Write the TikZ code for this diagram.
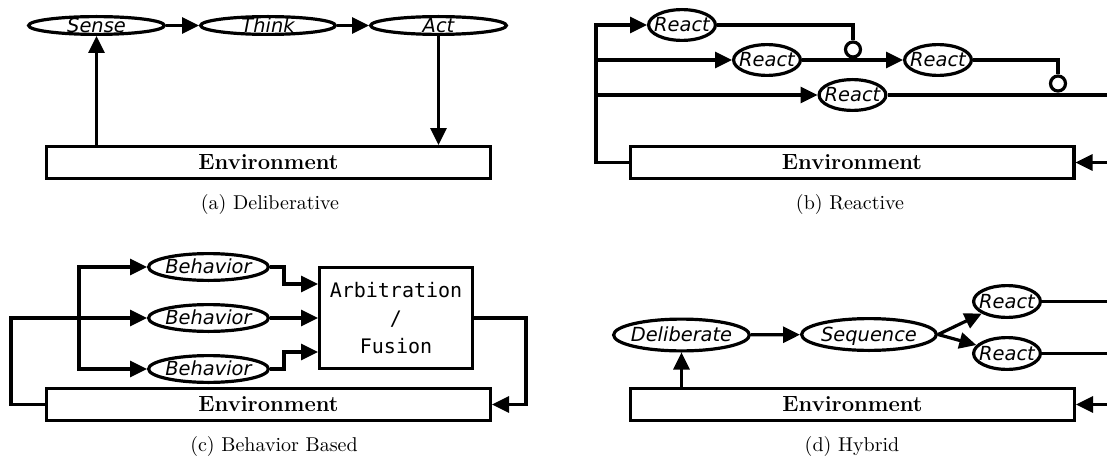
\documentclass[tikz,border=0pt]{standalone}
\usepackage{fontspec}
\usetikzlibrary{arrows.meta,shapes.geometric,calc}
\newfontfamily\ellfont{DejaVu Sans}
\newfontfamily\arbfont{DejaVu Sans Mono}
% zero-size, vertically centred label so the ellipse size is set only by minimum width/height
\newcommand\zw[1]{\makebox[0pt]{\raisebox{-0.35em}[0pt][0pt]{#1}}}

\begin{document}
\begin{tikzpicture}[x=0.5pt, y=-0.5pt,
  conn/.style={line width=1.6pt},
  arr/.style={conn, -{Triangle[length=8.5pt,width=8pt]}},
  oval/.style={ellipse, draw, line width=1.6pt, inner sep=0pt, fill=white,
    font=\ellfont\itshape\fontsize{9.7}{11}\selectfont},
  wide/.style={oval, minimum width=67.9pt, minimum height=8.9pt},
  tall/.style={oval, minimum width=67.9pt, minimum height=15.9pt},
  react/.style={oval, minimum width=33.4pt, minimum height=15.4pt},
  behav/.style={oval, minimum width=59.9pt, minimum height=13.4pt},
  envbox/.style={rectangle, draw, line width=1.6pt, minimum width=221.9pt,
    minimum height=15.9pt, inner sep=0pt, font=\fontsize{11}{13}\selectfont\bfseries},
  arbbox/.style={rectangle, draw, line width=1.6pt, minimum width=76.4pt,
    minimum height=50.4pt, inner sep=0pt, align=center,
    font=\arbfont\fontsize{10}{13.8}\selectfont},
  inhib/.style={circle, draw, line width=1.6pt, minimum size=7.5pt, inner sep=0pt, fill=white},
  subcap/.style={inner sep=0pt, font=\fontsize{10}{12}\selectfont},
]
\useasboundingbox (0,0) rectangle (1107,460);
\clip (0,0) rectangle (1107,460);

% ---------------- (a) Deliberative ----------------
\node[wide] (sense) at (96.5,25.5) {\zw{Sense}};
\node[wide, minimum width=67.4pt] (think) at (268,25.5) {\zw{Think}};
\node[wide] (act) at (438.5,25.5) {\zw{Act}};
\node[envbox] (enva) at (268.5,162.5) {Environment};
\node[subcap] (capa) at (270,204) {(a) Deliberative};
\draw[arr] (sense) -- (think);
\draw[arr] (think) -- (act);
\draw[arr] (act.south) -- (act.south |- enva.north);
\draw[arr] (enva.north -| sense.south) -- (sense.south);

% ---------------- (b) Reactive ----------------
\node[react] (ra) at (682,25) {\zw{React}};
\node[react] (rb) at (767,60) {\zw{React}};
\node[react] (rc) at (852.5,95) {\zw{React}};
\node[react] (rd) at (938,60) {\zw{React}};
\node[envbox] (envb) at (852,162.5) {Environment};
\node[subcap] (capb) at (850,204) {(b) Reactive};
\coordinate (bbus) at (596,25);
\coordinate (bout) at (1120,95);
\coordinate (bin) at (1120,162.5);
\draw[arr] (envb.west) -| (bbus) -- (ra);
\draw[arr] (bbus |- rb) -- (rb);
\draw[arr] (bbus |- rc) -- (rc);
\draw[arr] (rb) -- (rd);
\draw[conn] (rc.east) -- (bout);
\draw[arr] (bin) -- (envb.east);
\node[inhib] (inha) at (853,49.5) {};
\node[inhib] (inhb) at (1058,83.5) {};
\draw[conn] (ra.east) -| (inha.north);
\draw[conn] (rd.east) -| (inhb.north);

% ---------------- (c) Behavior Based ----------------
\node[behav] (ba) at (208.5,267) {\zw{Behavior}};
\node[behav] (bb) at (208.5,318) {\zw{Behavior}};
\node[behav] (bc) at (208.5,369) {\zw{Behavior}};
\node[arbbox] (arb) at (396,318) {Arbitration\\/\\Fusion};
\node[envbox] (envc) at (268.5,404.5) {Environment};
\node[subcap] (capc) at (274,446) {(c) Behavior Based};
\coordinate (cleft) at (11,318);
\coordinate (cbus) at (79,318);
\coordinate (kup) at (284,284);
\coordinate (kdn) at (284,352);
\coordinate (cright) at (526,404.5);
\draw[arr] (envc.west) -| (cleft) -- (bb);
\draw[arr] (cbus) |- (ba);
\draw[arr] (cbus) |- (bc);
\draw[arr] (ba.east) -| (kup) -- (kup -| arb.west);
\draw[arr] (bb) -- (arb);
\draw[arr] (bc.east) -| (kdn) -- (kdn -| arb.west);
\draw[arr] (arb.east) -| (cright) -- (envc.east);

% ---------------- (d) Hybrid ----------------
\node[tall] (delib) at (681.5,335) {\zw{Deliberate}};
\node[tall, minimum width=67.4pt] (seq) at (869,334.5) {\zw{Sequence}};
\node[react, minimum height=15.9pt] (hra) at (1007,301.5) {\zw{React}};
\node[react, minimum height=15.9pt] (hrb) at (1007,353.5) {\zw{React}};
\node[envbox] (envd) at (852.5,404.5) {Environment};
\node[subcap] (capd) at (852,446) {(d) Hybrid};
\coordinate (douta) at (1120,301.5);
\coordinate (doutb) at (1120,353.5);
\coordinate (din) at (1120,404.5);
\draw[arr] (envd.north -| delib.south) -- (delib.south);
\draw[arr] (delib) -- (seq);
\draw[arr] (seq.east) -- (hra);
\draw[arr] (seq.east) -- (hrb);
\draw[conn] (hra.east) -- (douta);
\draw[conn] (hrb.east) -- (doutb);
\draw[arr] (din) -- (envd.east);
\end{tikzpicture}
\end{document}
